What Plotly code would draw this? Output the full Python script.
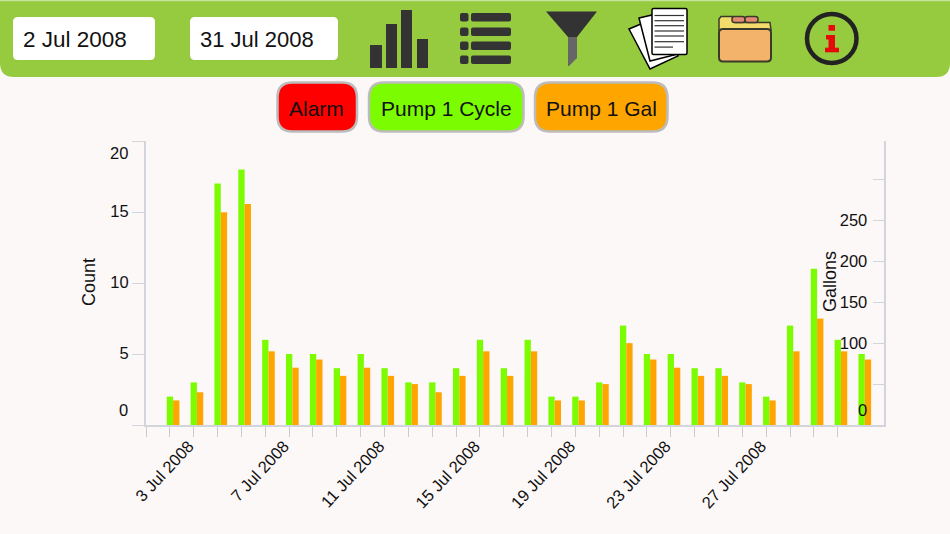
import pandas as pd
import plotly.graph_objects as go

W = 950
H = 534

days = pd.date_range("2008-07-02", "2008-07-31").strftime("%Y-%m-%d").tolist()
counts = [2, 3, 17, 18, 6, 5, 5, 4, 5, 4,
          3, 3, 4, 6, 4, 6, 2, 2, 3, 7,
          5, 5, 4, 4, 3, 2, 7, 11, 6, 5]
gallons = [30, 40, 260, 270, 90, 70, 80, 60, 70, 60,
           50, 40, 60, 90, 60, 90, 30, 30, 50, 100,
           80, 70, 60, 60, 50, 30, 90, 130, 90, 80]

x_ticks = pd.date_range("2008-07-01", "2008-07-31").strftime("%Y-%m-%d").tolist()
x_labels = {"2008-07-03": "3 Jul 2008", "2008-07-07": "7 Jul 2008",
            "2008-07-11": "11 Jul 2008", "2008-07-15": "15 Jul 2008",
            "2008-07-19": "19 Jul 2008", "2008-07-23": "23 Jul 2008",
            "2008-07-27": "27 Jul 2008"}
count_ticks = [0, 5, 10, 15, 20]
count_labels = ["", "5", "10", "15", ""]
gallon_ticks = [0, 50, 100, 150, 200, 250, 300]
gallon_labels = ["", "", "100", "150", "200", "250", ""]

GREEN = "#7cfc00"
ORANGE = "#ffa500"
BAR = "#96cb40"
BG = "#fdf8f8"
DARK = "#333333"
AXIS = "#d3d5dd"
TEXT = "#111111"
FONT = "Liberation Sans"
DAY = 86400000


def fx(x):
    return x / W


def fy(y):
    return 1 - y / H


def poly(points):
    return "M " + " L ".join(f"{fx(x)},{fy(y)}" for x, y in points) + " Z"


def rounded(x0, y0, x1, y1, r):
    return (f"M {fx(x0 + r)},{fy(y0)} L {fx(x1 - r)},{fy(y0)} Q {fx(x1)},{fy(y0)} {fx(x1)},{fy(y0 + r)} "
            f"L {fx(x1)},{fy(y1 - r)} Q {fx(x1)},{fy(y1)} {fx(x1 - r)},{fy(y1)} "
            f"L {fx(x0 + r)},{fy(y1)} Q {fx(x0)},{fy(y1)} {fx(x0)},{fy(y1 - r)} "
            f"L {fx(x0)},{fy(y0 + r)} Q {fx(x0)},{fy(y0)} {fx(x0 + r)},{fy(y0)} Z")


shapes = []


def add_path(path, fill, line=None, width=0):
    shapes.append(dict(type="path", xref="paper", yref="paper", path=path, fillcolor=fill,
                       line=dict(color=line or fill, width=width)))


def add_box(x0, y0, x1, y1, fill, r=0, line=None, width=0):
    add_path(rounded(x0, y0, x1, y1, r) if r else poly([(x0, y0), (x1, y0), (x1, y1), (x0, y1)]), fill, line, width)


# toolbar
add_path(f"M 0,1 L 1,1 L 1,{fy(63)} Q 1,{fy(77)} {fx(936)},{fy(77)} L {fx(14)},{fy(77)} Q 0,{fy(77)} 0,{fy(63)} Z", BAR)
add_box(0, 0, W, 1.2, "#c8e39a")
add_box(13, 17, 155, 60, "white", 5)
add_box(190, 17, 338, 60, "white", 5)

# bars icon
add_box(370, 45, 382, 68, DARK)
add_box(386, 24, 397, 68, DARK)
add_box(401, 10, 412, 68, DARK)
add_box(417, 39, 428, 68, DARK)

# list icon
for top in [13, 27.5, 41.5, 55.5]:
    add_box(460, top, 468.5, top + 8.5, DARK, 2)
    add_box(471, top, 511, top + 8.5, DARK, 2)

# funnel icon
add_path(poly([(546, 11.5), (597, 11.5), (577, 37), (568, 37)]), DARK)
add_path(poly([(568, 37), (577, 37), (577, 58), (569, 66), (568, 66)]), "#666666")

# pages icon
add_path(poly([(629, 29), (660, 16), (678, 56), (650, 69)]), "white", "black", 1.5)
add_path(poly([(639, 18), (665, 12), (678, 54), (650, 61)]), "white", "black", 1.5)
add_box(652, 8.5, 687, 54.5, "white", 1.5, "black", 1.5)
for y in [15.5, 20.7, 25.7, 31, 36, 41.7]:
    add_box(654.5, y - 0.6, 684, y + 0.6, "#333333")
add_box(654.5, 46.5, 673, 47.7, "#333333")

# folder icon
add_path(poly([(719, 30), (719, 19), (721, 16.5), (733, 16.5), (735, 22.5), (770, 22.5), (771, 30)]), "#f2dc6b", "#3a3a2a", 1.5)
add_box(732, 16.5, 745, 22.5, "#e58a72", 2.5, "#3a3a2a", 1.5)
add_box(745, 16.5, 758, 22.5, "#e58a72", 2.5, "#3a3a2a", 1.5)
add_box(719, 29, 771, 61.5, "#f4b36b", 4, "#3a3a2a", 2)

# info icon
shapes.append(dict(type="circle", xref="paper", yref="paper", x0=fx(807), x1=fx(856.5), y0=fy(63), y1=fy(14),
                   line=dict(color="#222222", width=4.5), fillcolor="rgba(0,0,0,0)"))
add_box(828.5, 25, 835, 30.7, "#e50b0b")
add_box(826, 35, 835, 39.5, "#e50b0b")
add_box(828.5, 39, 835, 48, "#e50b0b")
add_box(825, 47.7, 839, 52.3, "#e50b0b")

# filter buttons
add_box(277.5, 82.5, 357, 131.5, "#ff0000", 15, "#bcbcbc", 2.5)
add_box(369, 82.5, 523.5, 131.5, GREEN, 15, "#bcbcbc", 2.5)
add_box(535, 82.5, 667.5, 131.5, ORANGE, 15, "#bcbcbc", 2.5)


def label(x, y, text, size, angle=0, color=TEXT, anchor="center"):
    return dict(x=fx(x), y=fy(y), xref="paper", yref="paper", text=text, showarrow=False, textangle=angle,
                font=dict(family=FONT, size=size, color=color), xanchor=anchor, yanchor="middle")


annotations = [
    label(21, 40, "2 Jul 2008", 22.5, anchor="left"),
    label(198, 40, "31 Jul 2008", 22, anchor="left"),
    label(316.5, 108, "Alarm", 21),
    label(446, 108, "Pump 1 Cycle", 21),
    label(601, 108, "Pump 1 Gal", 21),
    label(89, 282, "Count", 18, -90),
    label(830, 282, "Gallons", 18, -90),
    # end labels sit inside the axis ends
    label(130, 153, "20", 16.5, anchor="right"),
    label(130, 410, "0", 16.5, anchor="right"),
    label(869, 410, "0", 16.5, anchor="right"),
]

fig = go.Figure()
fig.add_trace(go.Bar(x=days, y=counts, name="Pump 1 Cycle", marker=dict(color=GREEN, line_width=0),
                     width=0.265 * DAY, offset=-0.13 * DAY, yaxis="y"))
fig.add_trace(go.Bar(x=days, y=gallons, name="Pump 1 Gal", marker=dict(color=ORANGE, line_width=0),
                     width=0.265 * DAY, offset=0.135 * DAY, yaxis="y2"))

fig.update_layout(
    width=W,
    height=H,
    margin=dict(l=0, r=0, t=0, b=0, autoexpand=False),
    paper_bgcolor=BG,
    plot_bgcolor=BG,
    showlegend=False,
    barmode="overlay",
    font=dict(family=FONT, size=16.5, color=TEXT),
    shapes=shapes,
    annotations=annotations,
    xaxis=dict(
        type="date",
        domain=[fx(146), fx(884)],
        range=["2008-07-01", "2008-07-31 22:34"],
        tickmode="array",
        tickvals=x_ticks,
        ticktext=[x_labels.get(d, "") for d in x_ticks],
        tickangle=-47,
        tickfont=dict(size=16.5, color=TEXT),
        ticklabelstandoff=-7,
        ticklabelshift=-5,
        ticks="outside",
        ticklen=10,
        tickcolor="#cccccc",
        showgrid=False,
        zeroline=False,
        showline=True,
        linecolor=AXIS,
        linewidth=2,
        anchor="y",
    ),
    yaxis=dict(
        domain=[fy(425), fy(141)],
        range=[0, 20],
        tickvals=count_ticks,
        ticktext=count_labels,
        tickfont=dict(color=TEXT),
        ticklabelshift=-1,
        ticks="outside",
        ticklen=12,
        tickcolor=AXIS,
        showgrid=False,
        zeroline=False,
        showline=True,
        linecolor=AXIS,
        linewidth=2,
        anchor="x",
    ),
    yaxis2=dict(
        overlaying="y",
        side="right",
        range=[0, 347],
        tickvals=gallon_ticks,
        ticktext=gallon_labels,
        tickfont=dict(color=TEXT),
        ticks="inside",
        ticklen=11,
        ticklabelposition="inside",
        ticklabelstandoff=6,
        tickcolor=AXIS,
        showgrid=False,
        zeroline=False,
        showline=True,
        linecolor=AXIS,
        linewidth=2,
        anchor="x",
    ),
)

fig.write_html("out.html", config=dict(displayModeBar=False), post_script="document.body.style.margin='0';")
